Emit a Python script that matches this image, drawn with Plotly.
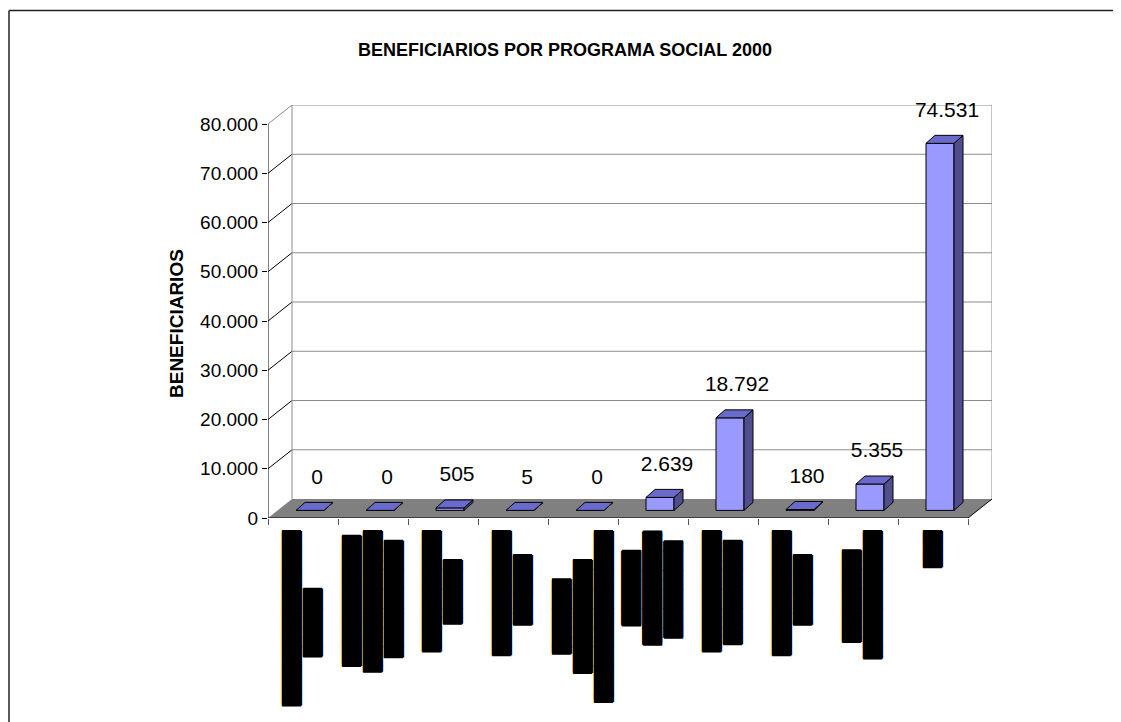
import plotly.graph_objects as go

# ---------------- data ----------------
values = [0, 0, 505, 5, 0, 2639, 18792, 180, 5355, 74531]
# category names are rendered as solid black bars in the reference (unreadable);
# each category label = rotated lines of full-block glyphs, length in 1/8 glyph cells (left -> right)
label_line_eighths = [[145, 56], [108, 117, 97], [100, 53], [103, 58], [62, 94, 142],
                      [62, 94, 80], [100, 86], [103, 58], [76, 106], [30]]
y_tick_values = [0, 10000, 20000, 30000, 40000, 50000, 60000, 70000, 80000]
title_text = "BENEFICIARIOS POR PROGRAMA SOCIAL 2000"
y_title_text = "BENEFICIARIOS"


def block_line(eighths):
    full, rem = divmod(eighths, 8)
    partial = ["", "\u258F", "\u258E", "\u258D", "\u258C", "\u258B", "\u258A", "\u2589"][rem]
    return "\u2588" * full + partial


# textangle=+90 -> first line is drawn right-most, so reverse
categories = ["<br>".join(block_line(e) for e in reversed(lines)) for lines in label_line_eighths]


def fmt(v):
    return f"{v:,}".replace(",", ".")


# ---------------- geometry ----------------
W, H = 1121, 722
ML, MR, MT, MB = 268, 129, 105, 204
N = len(values)
DEPTH_X_PX, DEPTH_Y_PX = 24, 19
plot_w = W - ML - MR
plot_h = H - MT - MB
YMAX = 80000
px_x = (plot_w - DEPTH_X_PX) / N
px_y = (plot_h - DEPTH_Y_PX) / YMAX
dx = DEPTH_X_PX / px_x
dy = DEPTH_Y_PX / px_y

centers = list(range(N))
x_lo, x_hi = -0.5, N - 0.5

# bar geometry (pixels converted to data units)
bar_off_x = 7 / px_x
bar_base = 7.6 / px_y
bar_half = 14 / px_x
bar_ddx = 9 / px_x
bar_ddy = 8 / px_y

FRONT = "#9999FF"
TOP = "#6A6ACC"
SIDE = "#4F4F8E"
FLOOR = "#808080"
WALL_LINE = "#8C8C8C"

fig = go.Figure()

# front faces
fig.add_trace(go.Bar(
    x=[c + bar_off_x for c in centers], y=values, base=bar_base, width=2 * bar_half,
    marker=dict(color=FRONT, line=dict(color="black", width=1)),
    hoverinfo="skip", showlegend=False))

side_x, side_y, top_x, top_y = [], [], [], []
for c, v in zip(centers, values):
    x0 = c + bar_off_x - bar_half
    x1 = c + bar_off_x + bar_half
    yb = bar_base
    yt = bar_base + v
    side_x += [x1, x1 + bar_ddx, x1 + bar_ddx, x1, x1, None]
    side_y += [yb, yb + bar_ddy, yt + bar_ddy, yt, yb, None]
    top_x += [x0, x1, x1 + bar_ddx, x0 + bar_ddx, x0, None]
    top_y += [yt, yt, yt + bar_ddy, yt + bar_ddy, yt, None]

fig.add_trace(go.Scatter(x=side_x, y=side_y, mode="lines", fill="toself", fillcolor=SIDE,
                         line=dict(color="black", width=1), hoverinfo="skip", showlegend=False))
fig.add_trace(go.Scatter(x=top_x, y=top_y, mode="lines", fill="toself", fillcolor=TOP,
                         line=dict(color="black", width=1), hoverinfo="skip", showlegend=False))

# value labels
label_gap = 24 / px_y
fig.add_trace(go.Scatter(
    x=[c + 14 / px_x for c in centers],
    y=[v + bar_base + bar_ddy + label_gap for v in values],
    mode="text", text=[fmt(v) for v in values], textposition="middle center",
    textfont=dict(family="Liberation Sans, Arial, sans-serif", size=21, color="black"),
    cliponaxis=False, hoverinfo="skip", showlegend=False))

# ---------------- walls / floor ----------------
shapes = []
shapes.append(dict(type="path", xref="x", yref="y", layer="below",
                   path=f"M {x_lo},0 L {x_hi},0 L {x_hi + dx},{dy} L {x_lo + dx},{dy} Z",
                   fillcolor=FLOOR, line=dict(width=0)))
for v in y_tick_values[1:]:
    shapes.append(dict(type="line", xref="x", yref="y", layer="below",
                       x0=x_lo + dx, y0=v + dy, x1=x_hi + dx, y1=v + dy,
                       line=dict(color=WALL_LINE, width=1)))
    shapes.append(dict(type="line", xref="x", yref="y", layer="below",
                       x0=x_lo, y0=v, x1=x_lo + dx, y1=v + dy,
                       line=dict(color=WALL_LINE if v == YMAX else "black", width=1)))
for xv in (x_lo + dx, x_hi + dx):
    shapes.append(dict(type="line", xref="x", yref="y", layer="below",
                       x0=xv, y0=dy, x1=xv, y1=YMAX + dy, line=dict(color=WALL_LINE, width=1)))
shapes.append(dict(type="line", xref="x", yref="y", layer="below",
                   x0=x_lo, y0=0, x1=x_lo, y1=YMAX, line=dict(color="black", width=1)))
shapes.append(dict(type="line", xref="x", yref="y", layer="below",
                   x0=x_lo, y0=0, x1=x_hi, y1=0, line=dict(color="black", width=1)))
shapes.append(dict(type="line", xref="x", yref="y", layer="below",
                   x0=x_hi, y0=0, x1=x_hi + dx, y1=dy, line=dict(color="black", width=1)))


def px2paper_x(px):
    return (px - ML) / plot_w


def px2paper_y(py):
    return (H - MB - py) / plot_h


shapes.append(dict(type="line", xref="paper", yref="paper",
                   x0=px2paper_x(9), y0=px2paper_y(10.5), x1=px2paper_x(1113), y1=px2paper_y(10.5),
                   line=dict(color="#222222", width=1.5)))
shapes.append(dict(type="line", xref="paper", yref="paper",
                   x0=px2paper_x(9), y0=px2paper_y(10.5), x1=px2paper_x(9), y1=px2paper_y(730),
                   line=dict(color="#222222", width=1.5)))

FONT = "Liberation Sans, Arial, sans-serif"

# category labels (rotated, centered lines)
annotations = []
for c, txt in zip(centers, categories):
    annotations.append(dict(
        x=c, y=0, xref="x", yref="y", text=txt, showarrow=False, textangle=90,
        xanchor="center", yanchor="top", yshift=-12, align="center",
        borderpad=0, borderwidth=0,
        font=dict(family="DejaVu Sans Mono", size=16, color="black",
                  shadow="1px 0px 0px #000, -1px 0px 0px #000, 0px 0.5px 0px #000, 0px -0.5px 0px #000")))

# y-axis title
annotations.append(dict(
    x=px2paper_x(176), y=px2paper_y(324), xref="paper", yref="paper",
    text=f"<b>{y_title_text}</b>", showarrow=False, textangle=-90,
    xanchor="center", yanchor="middle",
    font=dict(family=FONT, size=19, color="black")))

fig.update_layout(
    width=W, height=H, autosize=False,
    margin=dict(l=ML, r=MR, t=MT, b=MB, pad=0),
    paper_bgcolor="white", plot_bgcolor="rgba(0,0,0,0)",
    separators=",.",
    barmode="overlay",
    title=dict(text=f"<b>{title_text}</b>", x=565 / W, xref="container", xanchor="center",
               y=1 - 50 / H, yref="container", yanchor="middle",
               font=dict(family=FONT, size=18, color="black")),
    xaxis=dict(range=[x_lo, x_hi + dx], tickvals=[x_lo + i for i in range(N + 1)],
               ticktext=[""] * (N + 1), ticks="outside", ticklen=6, tickcolor="#555555",
               showgrid=False, zeroline=False, showline=False, fixedrange=True),
    yaxis=dict(range=[0, YMAX + dy], tickvals=y_tick_values, tickformat=",d",
               ticks="outside", ticklen=5, tickcolor="black",
               tickfont=dict(family=FONT, size=19, color="black"),
               showgrid=False, zeroline=False, showline=False, fixedrange=True),
    shapes=shapes,
    annotations=annotations,
    showlegend=False,
)

fig.write_html("out.html", config={"displayModeBar": False},
               post_script="document.body.style.margin='0';document.body.style.overflow='hidden';")
